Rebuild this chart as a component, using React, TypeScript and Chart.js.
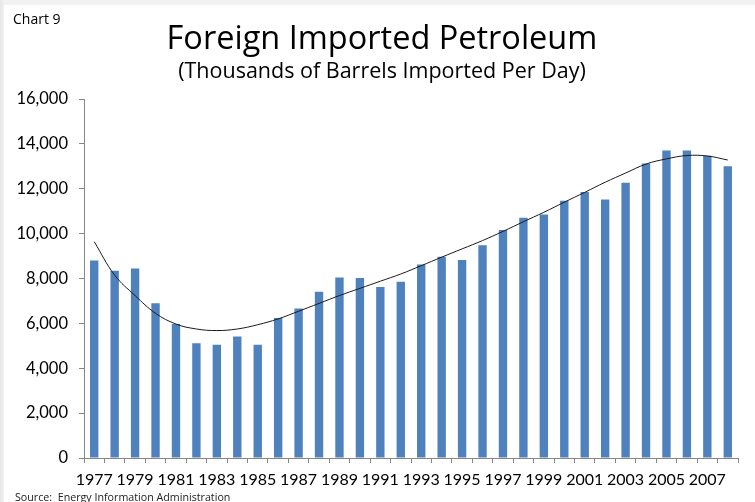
import React, { useEffect, useRef } from 'react';
import { Chart, registerables } from 'chart.js';

Chart.register(...registerables);

const years: string[] = [
  '1977', '1978', '1979', '1980', '1981', '1982', '1983', '1984',
  '1985', '1986', '1987', '1988', '1989', '1990', '1991', '1992',
  '1993', '1994', '1995', '1996', '1997', '1998', '1999', '2000',
  '2001', '2002', '2003', '2004', '2005', '2006', '2007', '2008',
];

const importedBarrels: number[] = [
  8800, 8350, 8450, 6900, 5970, 5110, 5050, 5420,
  5050, 6240, 6660, 7410, 8050, 8020, 7620, 7860,
  8620, 8970, 8830, 9480, 10160, 10710, 10850, 11460,
  11860, 11520, 12270, 13120, 13710, 13710, 13470, 13000,
];

const trendValues: number[] = [
  9640, 8150, 7240, 6450, 5970, 5750, 5680, 5750,
  5940, 6200, 6540, 6890, 7240, 7560, 7880, 8200,
  8570, 8950, 9320, 9690, 10100, 10530, 10950, 11400,
  11840, 12290, 12700, 13100, 13330, 13480, 13460, 13280,
];

const yTickValues: number[] = [0, 2000, 4000, 6000, 8000, 10000, 12000, 14000, 16000];

const AXIS_FONT = 'Lato, "Open Sans", sans-serif';
const TITLE_FONT = '"Open Sans", Lato, sans-serif';

export default function App() {
  const canvasRef = useRef<HTMLCanvasElement | null>(null);

  useEffect(() => {
    const canvas = canvasRef.current;
    if (!canvas) return;
    const chart = new Chart(canvas, {
      type: 'bar',
      data: {
        labels: years,
        datasets: [
          {
            type: 'line',
            label: 'Trend',
            data: trendValues,
            borderColor: '#1a1a1a',
            borderWidth: 1,
            pointRadius: 0,
            tension: 0.4,
            fill: false,
            order: 0,
          } as any,
          {
            type: 'bar',
            label: 'Imports',
            data: importedBarrels,
            backgroundColor: '#4f81bd',
            borderWidth: 0,
            barPercentage: 0.41,
            categoryPercentage: 1,
            order: 1,
          },
        ],
      },
      options: {
        responsive: false,
        animation: false,
        layout: { padding: { left: 0, right: 17, top: 94, bottom: 0 } },
        plugins: {
          legend: { display: false },
          tooltip: { enabled: false },
          title: { display: false },
        },
        scales: {
          x: {
            offset: true,
            grid: {
              offset: true,
              drawOnChartArea: false,
              drawTicks: true,
              tickLength: 5,
              color: '#868686',
            },
            border: { color: '#868686' },
            ticks: {
              autoSkip: false,
              maxRotation: 0,
              minRotation: 0,
              padding: 7,
              color: '#000',
              font: { family: AXIS_FONT, size: 16 },
              callback: (_v: any, i: number) => (i % 2 === 0 ? years[i] : ''),
            },
            afterFit: (s: any) => {
              s.height = 44;
            },
          },
          y: {
            min: 0,
            max: 16000,
            afterBuildTicks: (s: any) => {
              s.ticks = yTickValues.map((v) => ({ value: v }));
            },
            grid: {
              drawOnChartArea: false,
              tickLength: 5,
              color: '#868686',
            },
            border: { color: '#868686' },
            ticks: {
              padding: 11,
              color: '#000',
              font: { family: AXIS_FONT, size: 16.5 },
              callback: (v: any) => Number(v).toLocaleString('en-US'),
            },
            afterFit: (s: any) => {
              s.width = 80;
            },
          },
        },
      },
    });
    return () => chart.destroy();
  }, []);

  return (
    <div
      style={{
        position: 'fixed',
        left: 0,
        top: 0,
        width: 755,
        height: 502,
        background: 'linear-gradient(to right, #e6e6e6, #f2f2f2 4px, #f2f2f2)',
        overflow: 'hidden',
        fontFamily: AXIS_FONT,
      }}
    >
      <div
        style={{
          position: 'absolute',
          left: 4,
          top: 5,
          width: 751,
          height: 497,
          background: '#ffffff',
        }}
      >
        <canvas ref={canvasRef} width={751} height={497} style={{ display: 'block' }} />
        <div style={{ position: 'absolute', left: 9, top: 4, fontSize: 14, fontFamily: TITLE_FONT, color: '#000' }}>
          Chart 9
        </div>
        <div
          style={{
            position: 'absolute',
            left: 11,
            top: 485,
            fontSize: 10.7,
            fontFamily: TITLE_FONT,
            color: '#222',
            whiteSpace: 'pre',
          }}
        >
          {'Source:  Energy Information Administration'}
        </div>
      </div>
      <div
        style={{
          position: 'absolute',
          left: 0,
          top: 17,
          width: 764,
          textAlign: 'center',
          fontFamily: TITLE_FONT,
          fontSize: 32.5,
          lineHeight: '39px',
          color: '#000',
          whiteSpace: 'nowrap',
        }}
      >
        Foreign Imported Petroleum
      </div>
      <div
        style={{
          position: 'absolute',
          left: 0,
          top: 57,
          width: 764,
          textAlign: 'center',
          fontFamily: TITLE_FONT,
          fontSize: 21.5,
          lineHeight: '26px',
          color: '#000',
          whiteSpace: 'nowrap',
        }}
      >
        (Thousands of Barrels Imported Per Day)
      </div>
    </div>
  );
}
